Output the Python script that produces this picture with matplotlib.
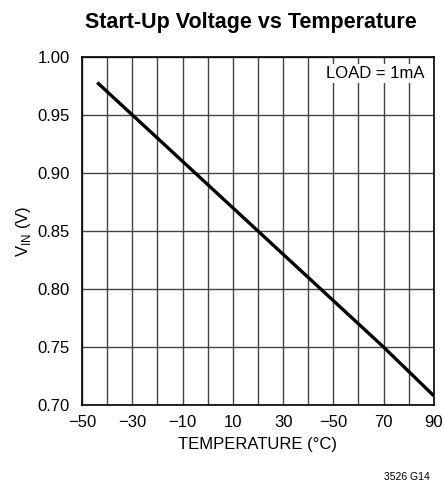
import numpy as np
import matplotlib.pyplot as plt
from matplotlib import font_manager

# pick a narrow sans if available
names = [f.name for f in font_manager.fontManager.ttflist]
fam = 'Liberation Sans Narrow' if 'Liberation Sans Narrow' in names else 'Liberation Sans'
plt.rcParams['font.family'] = [fam, 'DejaVu Sans']

temps = [-44, -30, 20, 70, 90]
vin = [0.978, 0.95, 0.85, 0.75, 0.708]

xticks = [-50, -30, -10, 10, 30, 50, 70, 90]
xticklabels = ['\u221250', '\u221230', '\u221210', '10', '30', '\u221250', '70', '90']
yticks = [0.70, 0.75, 0.80, 0.85, 0.90, 0.95, 1.00]

fig = plt.figure(figsize=(4.44, 4.91), dpi=100)
ax = fig.add_axes([0.185, 0.175, 0.792, 0.709])

ax.plot(temps, vin, color='black', linewidth=2.4, solid_capstyle='butt', zorder=3)

ax.set_xlim(-50, 90)
ax.set_ylim(0.70, 1.00)
ax.set_xticks(xticks)
ax.set_xticklabels(xticklabels)
ax.set_xticks(np.arange(-40, 90, 20), minor=True)
ax.set_yticks(yticks)
ax.set_yticklabels(['%.2f' % v for v in yticks])
ax.tick_params(which='both', length=0, labelsize=12)
ax.tick_params(axis='x', pad=7)
ax.tick_params(axis='y', pad=9)
ax.grid(True, which='both', color='#444444', linewidth=1.0)
for s in ax.spines.values():
    s.set_linewidth(1.2)

ax.set_xlabel('TEMPERATURE (\u00b0C)', fontsize=12, labelpad=5)
ax.set_ylabel('V$_{\\mathregular{IN}}$ (V)', fontsize=12, labelpad=3)

ax.text(0.975, 0.975, 'LOAD = 1mA', transform=ax.transAxes, ha='right', va='top',
        fontsize=12, bbox=dict(facecolor='white', edgecolor='none', pad=1.5), zorder=4)

fig.text(0.565, 0.955, 'Start-Up Voltage vs Temperature', ha='center', va='center',
         fontsize=15.5, fontweight='bold')
fig.text(0.968, 0.028, '3526 G14', ha='right', va='center', fontsize=7.5,
         family=['Liberation Sans', 'DejaVu Sans'])

fig.savefig('out.png', dpi=100)
